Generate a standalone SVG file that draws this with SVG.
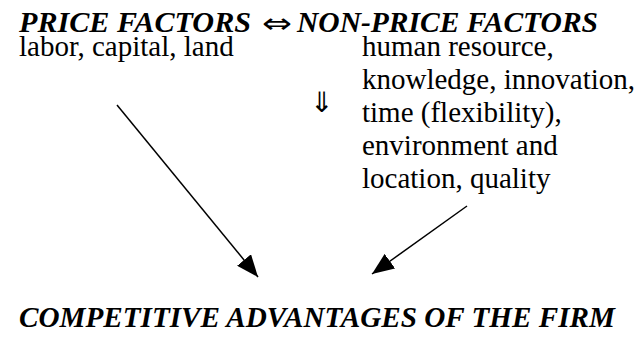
<svg xmlns="http://www.w3.org/2000/svg" width="638" height="344" viewBox="0 0 638 344">
<style>
text{fill:#000}
.h{font-weight:bold;font-style:italic}
.ln{stroke:#000;stroke-width:1.5;fill:none}
</style>
<defs>
<marker id="ah" viewBox="0 0 22 18" refX="22" refY="9" markerWidth="22" markerHeight="18" markerUnits="userSpaceOnUse" orient="auto">
<path d="M0,0 L22,9 L0,18 Z" fill="#000"/>
</marker>
</defs>
<rect width="638" height="344" fill="#fff"/>
<g font-family="Liberation Serif, Times New Roman, serif" font-size="29">
<g id="title">
<text class="h" x="19" y="32" font-size="29.5" textLength="232" lengthAdjust="spacingAndGlyphs">PRICE FACTORS</text>
<text x="262" y="33" font-family="DejaVu Sans, sans-serif" font-size="28" textLength="30" lengthAdjust="spacingAndGlyphs">⇔</text>
<text class="h" x="297" y="32" font-size="29.5" textLength="301" lengthAdjust="spacingAndGlyphs">NON-PRICE FACTORS</text>
</g>
<g id="price">
<text x="19" y="56">labor, capital, land</text>
</g>
<g id="nonprice">
<text x="362" y="56">human resource,</text>
<text x="362" y="89">knowledge, innovation,</text>
<text x="362" y="122">time (flexibility),</text>
<text x="362" y="155">environment and</text>
<text x="362" y="188">location, quality</text>
</g>
<g id="down">
<text x="322" y="112" text-anchor="middle" font-family="DejaVu Sans, sans-serif" font-size="28">⇓</text>
</g>
<g id="advantage">
<text class="h" x="19" y="327" font-size="29.5" textLength="596" lengthAdjust="spacingAndGlyphs">COMPETITIVE ADVANTAGES OF THE FIRM</text>
</g>
</g>
<g id="connectors">
<line class="ln" x1="117" y1="105" x2="258" y2="277" marker-end="url(#ah)"/>
<line class="ln" x1="467" y1="206" x2="372" y2="274" marker-end="url(#ah)"/>
</g>
</svg>
